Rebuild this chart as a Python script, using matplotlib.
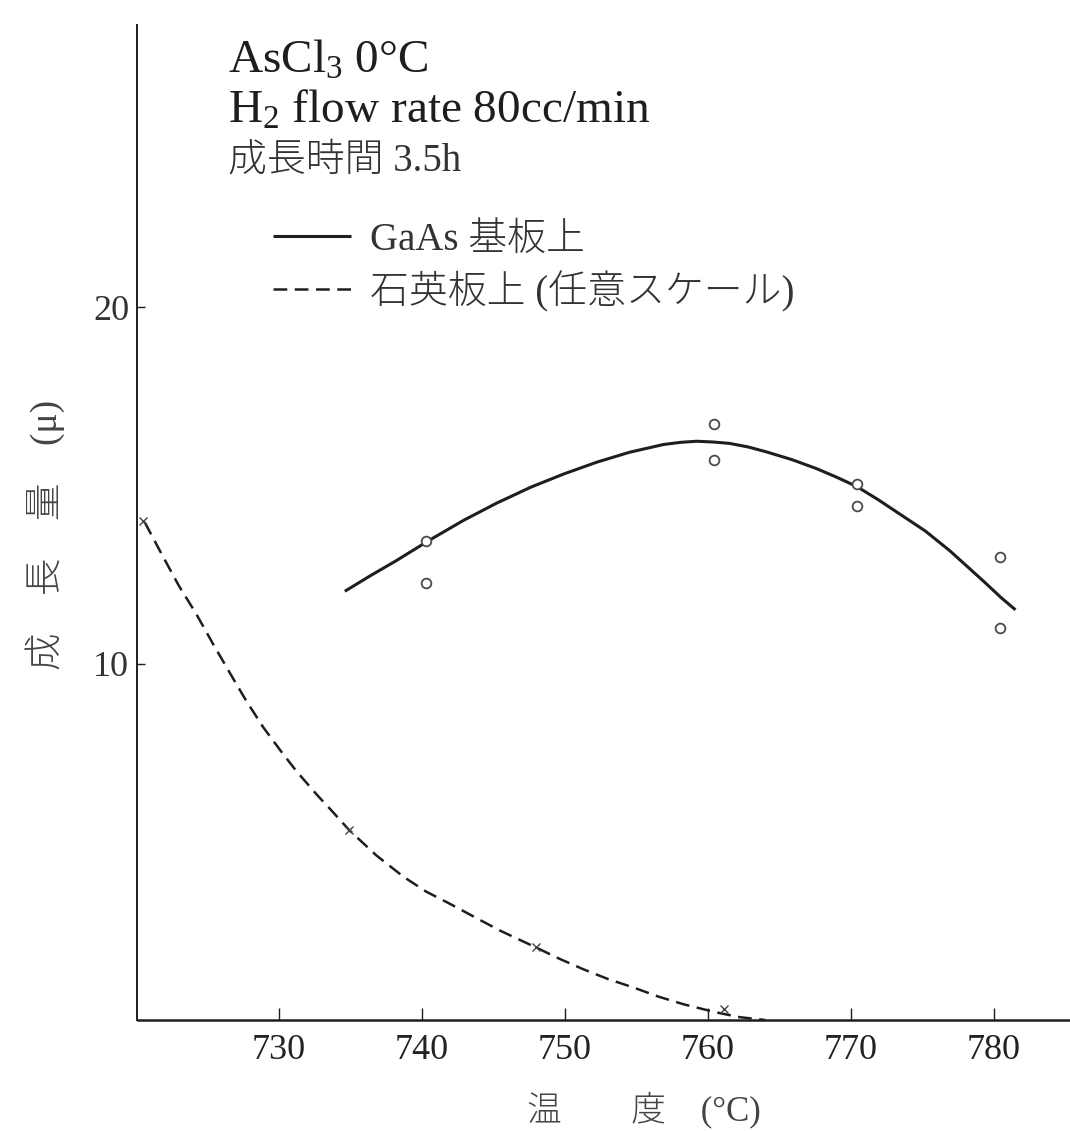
import matplotlib
matplotlib.use("Agg")
import matplotlib.pyplot as plt
from matplotlib.font_manager import FontProperties

# fonts: Latin serif first, CJK fallback
FAMILY = ["Liberation Serif", "Noto Sans CJK JP", "DejaVu Sans"]
plt.rcParams["font.family"] = FAMILY
plt.rcParams["mathtext.fontset"] = "custom"
plt.rcParams["mathtext.rm"] = "Liberation Serif"
plt.rcParams["mathtext.it"] = "Liberation Serif:italic"

# GaAs substrate: measured points (open circles)
gaas_x = [740.3, 740.3, 760.4, 760.4, 770.4, 770.4, 780.4, 780.4]
gaas_y = [13.44, 12.26, 16.72, 15.70, 15.05, 14.42, 13.00, 10.99]

# GaAs substrate: hand-drawn fit curve
gaas_fit_x = [734.6, 736.4, 738.2, 740.5, 742.9, 745.2, 747.6, 749.9, 752.2,
              754.5, 756.9, 758.1, 759.2, 760.3, 761.5, 762.8, 764.1, 765.9,
              767.6, 769.0, 770.4, 771.9, 773.4, 775.2, 776.9, 778.2, 779.3,
              780.5, 781.5]
gaas_fit_y = [12.03, 12.47, 12.89, 13.46, 14.02, 14.50, 14.95, 15.32, 15.65,
              15.93, 16.15, 16.21, 16.24, 16.22, 16.18, 16.08, 15.94, 15.72,
              15.47, 15.23, 14.97, 14.60, 14.20, 13.72, 13.17, 12.70, 12.30,
              11.85, 11.51]

# quartz plate (arbitrary scale): measured points (x marks)
quartz_x = [720.5, 734.9, 748.0, 761.1]
quartz_y = [14.0, 5.33, 2.05, 0.32]

# quartz plate: hand-drawn fit curve
quartz_fit_x = [720.6, 721.9, 723.0, 724.2, 725.4, 726.6, 727.7, 728.9, 730.1,
                731.2, 732.6, 733.8, 734.9, 736.8, 738.7, 740.3, 742.0, 743.8,
                745.5, 748.0, 749.6, 751.3, 753.0, 754.8, 756.5, 758.3, 760.5,
                762.2, 764.0]
quartz_fit_y = [13.97, 12.99, 12.18, 11.40, 10.54, 9.71, 8.96, 8.21, 7.56,
                6.99, 6.34, 5.82, 5.33, 4.62, 4.02, 3.60, 3.25, 2.86,
                2.50, 2.03, 1.72, 1.42, 1.15, 0.91, 0.66, 0.44, 0.22,
                0.08, 0.0]

x_ticks = [730, 740, 750, 760, 770, 780]
y_ticks = [10, 20]

W, H = 1070, 1131


def fig_xy(px, py):
    """reference pixel -> figure fraction"""
    return px / W, 1 - py / H


fig = plt.figure(figsize=(W / 100, H / 100), dpi=100)
ax = fig.add_axes([137.5 / W, 1 - 1020 / H, 932.3 / W, 995 / H])

ink = "#1e1e1e"

gaas_line, = ax.plot(gaas_fit_x, gaas_fit_y, color=ink, lw=2.2,
                     solid_capstyle="butt", solid_joinstyle="round",
                     label="GaAs 基板上")
ax.plot(gaas_x, gaas_y, linestyle="none", marker="o", markersize=7,
        markerfacecolor="white", markeredgecolor="#4a4a4a", markeredgewidth=1.3)

quartz_line, = ax.plot(quartz_fit_x, quartz_fit_y, color=ink, lw=1.8,
                       linestyle=(0, (5.5, 3)), dash_joinstyle="round",
                       label="石英板上 (任意スケール)")
ax.plot(quartz_x, quartz_y, linestyle="none", marker="x", markersize=6,
        color="#444444", markeredgewidth=1.0)

ax.set_xlim(720.1, 785.3)
ax.set_ylim(0, 27.92)

for side in ["top", "right"]:
    ax.spines[side].set_visible(False)
ax.spines["left"].set_linewidth(1.4)
ax.spines["bottom"].set_linewidth(1.8)
ax.spines["left"].set_color(ink)
ax.spines["bottom"].set_color(ink)

ax.set_xticks(x_ticks)
ax.set_yticks(y_ticks)
ax.tick_params(axis="x", direction="in", length=9, width=1.0, pad=10,
               labelsize=26, labelcolor="#222222", color=ink)
ax.tick_params(axis="y", direction="in", length=6, width=1.0, pad=6,
               labelsize=26, labelcolor="#333333", color=ink)

ax.set_xlabel("温　　度　(°C)", fontsize=25, color="#444444", fontweight="light")
ax.xaxis.set_label_coords(0.543, -0.0905)
ax.xaxis.label.set_va("center")
ax.set_ylabel("成　長　量　(μ)", fontsize=27, color="#444444", fontweight="light")
ax.yaxis.set_label_coords(-0.099, 0.4875)
ax.yaxis.label.set_va("center")

# condition notes
fig.text(*fig_xy(228, 73), "AsCl$_3$ 0°C", fontsize=34, color=ink, va="baseline")
fig.text(*fig_xy(228, 123), "H$_2$ flow rate 80cc/min", fontsize=34, color=ink,
         va="baseline")
fig.text(*fig_xy(228, 171), "成長時間 3.5h", fontsize=28, color="#333333",
         va="baseline", fontweight="light")

ax.legend(handles=[gaas_line, quartz_line], loc="upper left",
          bbox_to_anchor=fig_xy(273, 222), bbox_transform=fig.transFigure,
          frameon=False, borderpad=0, borderaxespad=0,
          prop=FontProperties(family=FAMILY, size=28, weight="light"),
          handlelength=2.0, handletextpad=0.5, labelspacing=0.3,
          labelcolor="#333333")

fig.savefig("out.png", dpi=100)
